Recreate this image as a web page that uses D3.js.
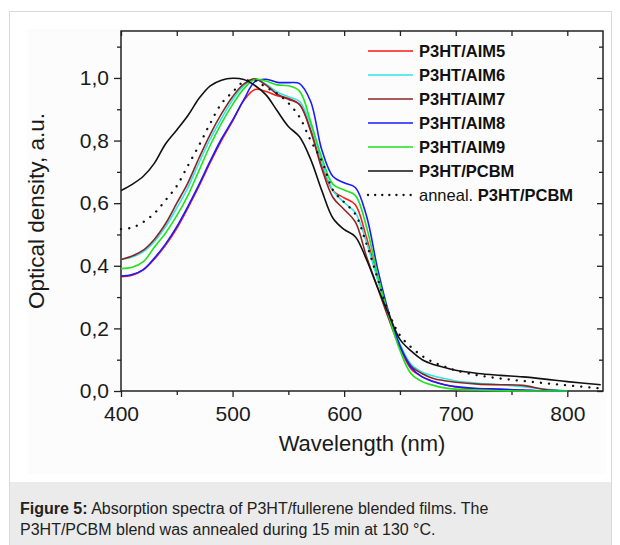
<!DOCTYPE html>
<html>
<head>
<meta charset="utf-8">
<script src="https://cdn.jsdelivr.net/npm/d3@7/dist/d3.min.js"></script>
<style>
body { margin: 0; background: #fff; }
text { font-family: "Liberation Sans", Arial, sans-serif; }
</style>
</head>
<body>
<svg id="chart" width="620" height="545"></svg>
<script>
// wavelength grid (nm) shared by every spectrum
var wavelengths = [400,410,420,430,440,450,460,470,480,490,500,510,520,530,540,550,560,570,580,590,
                   600,610,620,630,640,650,660,670,680,690,700,720,740,760,780,800,830];

var aim5 = [.365,.370,.387,.422,.466,.520,.585,.655,.730,.800,.862,.928,.963,.957,.943,.935,.915,.835,.720,.640,
            .617,.595,.490,.360,.240,.140,.070,.045,.030,.020,.013,.006,.004,.002,0,0,null];
var aim6 = [.420,.428,.445,.478,.525,.585,.650,.730,.805,.870,.930,.975,.995,.980,.955,.940,.925,.850,.730,.640,
            .602,.570,.475,.355,.240,.150,.085,.060,.048,.040,.032,.025,.020,.014,.006,0,null];
var aim7 = [.420,.431,.450,.485,.535,.600,.665,.745,.820,.885,.940,.980,.997,.977,.948,.932,.915,.830,.710,.618,
            .580,.540,.430,.330,.230,.140,.080,.055,.040,.033,.028,.022,.020,.018,.005,0,null];
var aim8 = [.367,.372,.388,.425,.470,.525,.590,.660,.735,.805,.865,.930,.988,.996,.986,.985,.982,.925,.770,.685,
            .665,.650,.560,.390,.250,.145,.075,.045,.030,.020,.014,.008,.006,.003,0,0,null];
var aim9 = [.391,.395,.413,.460,.505,.560,.625,.705,.785,.855,.915,.965,.995,.990,.978,.975,.958,.860,.745,.660,
            .642,.625,.525,.370,.240,.130,.055,.030,.018,.010,.006,.003,.001,0,0,0,null];
var pcbm = [.640,.660,.686,.728,.790,.834,.880,.935,.975,.993,.999,.995,.976,.946,.895,.845,.812,.740,.640,.552,
            .516,.493,.420,.330,.245,.165,.128,.100,.085,.075,.066,.056,.050,.045,.038,.030,.020];
var pcbmAnnealed = [.517,.522,.540,.568,.610,.655,.720,.785,.855,.918,.955,.988,.992,.970,.950,.920,.875,.800,.735,.642,
            .603,.565,.470,.360,.250,.178,.140,.112,.092,.078,.066,.050,.040,.032,.025,.018,.008];

var seriesNames = ["P3HT/AIM5","P3HT/AIM6","P3HT/AIM7","P3HT/AIM8","P3HT/AIM9","P3HT/PCBM","P3HT/PCBM"];
var seriesValues = [aim5, aim6, aim7, aim8, aim9, pcbm, pcbmAnnealed];
var seriesColors = ["#ff1a1a","#2ee6e6","#8b2525","#1a1aff","#1ee31e","#111111","#111111"];

var xMajor = [400,500,600,700,800];
var xMinor = [450,550,650,750];
var yMajor = [0,0.2,0.4,0.6,0.8,1.0];
var yMinor = [0.1,0.3,0.5,0.7,0.9,1.1];

var svg = d3.select("#chart");

// page frame + caption band
svg.append("rect").attr("x",9.5).attr("y",11.5).attr("width",602).attr("height",540)
  .attr("fill","#fff").attr("stroke","#d9d9d9");
svg.append("rect").attr("x",27).attr("y",29).attr("width",579).attr("height",445).attr("fill","#fcfcfc");
svg.append("rect").attr("x",10).attr("y",482).attr("width",601).attr("height",63).attr("fill","#ebebeb");

var cap = svg.append("text").attr("x",20).attr("y",514).attr("font-size",16).attr("fill","#222");
cap.append("tspan").attr("font-weight","bold").text("Figure 5:");
cap.append("tspan").text(" Absorption spectra of P3HT/fullerene blended films. The");
svg.append("text").attr("x",20).attr("y",535).attr("font-size",16).attr("fill","#222")
  .text("P3HT/PCBM blend was annealed during 15 min at 130 °C.");

var pLeft = 121, pRight = 603, pTop = 31, pBottom = 391;
var x = d3.scaleLinear().domain([400,832]).range([pLeft,pRight]);
var y = d3.scaleLinear().domain([0,1.15]).range([pBottom,pTop]);

var comma = function(d){ return d3.format(".1f")(d).replace(".", ","); };

// axes
svg.append("g").attr("transform","translate("+pLeft+",0)")
  .call(d3.axisLeft(y).tickValues(yMajor).tickSize(7).tickPadding(5).tickFormat(comma));
svg.append("g").attr("transform","translate("+pLeft+",0)")
  .call(d3.axisLeft(y).tickValues(yMinor).tickSize(4).tickFormat(""));
svg.append("g").attr("transform","translate("+pRight+",0)")
  .call(d3.axisLeft(y).tickValues(yMajor).tickSize(6).tickFormat(""));
svg.append("g").attr("transform","translate("+pRight+",0)")
  .call(d3.axisLeft(y).tickValues(yMinor).tickSize(4).tickFormat(""));
svg.append("g").attr("transform","translate(0,"+pBottom+")")
  .call(d3.axisBottom(x).tickValues(xMajor).tickSize(6).tickPadding(9));
svg.append("g").attr("transform","translate(0,"+pBottom+")")
  .call(d3.axisBottom(x).tickValues(xMinor).tickSize(4).tickFormat(""));
svg.append("g").attr("transform","translate(0,"+pTop+")")
  .call(d3.axisBottom(x).tickValues(xMajor.concat(xMinor)).tickSize(5).tickFormat(""));

svg.selectAll(".domain").remove();
svg.selectAll(".tick line").attr("stroke","#222").attr("stroke-width",1.3);
svg.selectAll(".tick text").attr("font-size",21).attr("fill","#1a1a1a")
  .style("font-family","'Liberation Sans', Arial, sans-serif");

svg.append("rect").attr("x",pLeft).attr("y",pTop).attr("width",pRight-pLeft).attr("height",pBottom-pTop)
  .attr("fill","none").attr("stroke","#222").attr("stroke-width",1.5);

svg.append("text").attr("transform","translate(44,211) rotate(-90)").attr("text-anchor","middle")
  .attr("font-size",22.5).attr("fill","#1a1a1a").text("Optical density, a.u.");
svg.append("text").attr("x",(pLeft+pRight)/2).attr("y",451).attr("text-anchor","middle")
  .attr("font-size",22).attr("fill","#1a1a1a").text("Wavelength (nm)");

// spectra
var line = d3.line()
  .defined(function(d){ return d[1] !== null; })
  .x(function(d){ return x(d[0]); })
  .y(function(d){ return y(d[1]); })
  .curve(d3.curveCatmullRom.alpha(0.5));

seriesValues.forEach(function(vals, i){
  var pts = wavelengths.map(function(w, j){ return [w, vals[j]]; });
  var p = svg.append("path").datum(pts).attr("d", line)
    .attr("fill","none").attr("stroke", seriesColors[i]).attr("stroke-width",1.6);
  if (i == 6) {
    p.attr("stroke-width",2.3).attr("stroke-dasharray","0.1,8").attr("stroke-linecap","round");
  }
});

// legend
var legend = svg.append("g");
seriesNames.forEach(function(name, i){
  var ly = 51 + i*24;
  var l = legend.append("line").attr("x1",368).attr("x2",413).attr("y1",ly).attr("y2",ly)
    .attr("stroke", seriesColors[i]).attr("stroke-width",1.6);
  var t = legend.append("text").attr("x",419).attr("y",ly).attr("dy","0.36em")
    .attr("font-size",16.5).attr("fill","#111");
  if (i == 6) {
    l.attr("stroke-width",2.3).attr("stroke-dasharray","0.1,7").attr("stroke-linecap","round");
    t.append("tspan").text("anneal. ");
    t.append("tspan").attr("font-weight","bold").text(name);
  } else {
    t.attr("font-weight","bold").text(name);
  }
});
</script>
</body>
</html>
